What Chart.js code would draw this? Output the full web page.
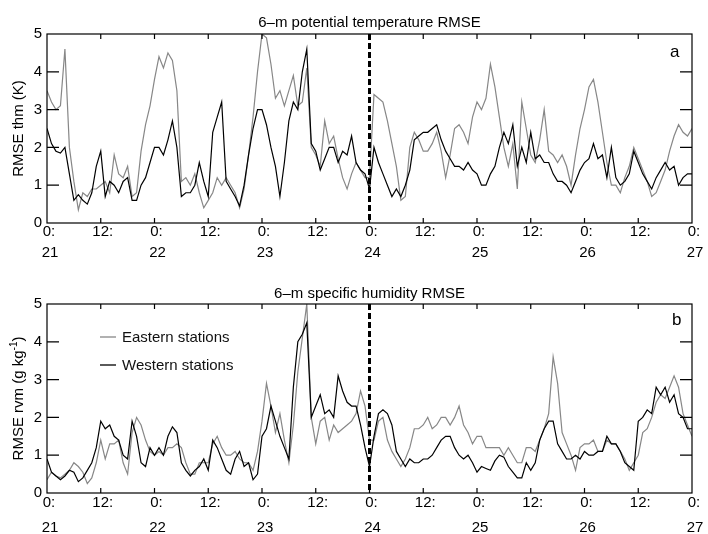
<!DOCTYPE html>
<html><head><meta charset="utf-8">
<script src="https://cdn.jsdelivr.net/npm/chart.js@4.4.1/dist/chart.umd.min.js"></script>
<style>
html,body{margin:0;padding:0;background:#fff;}
#wrap{position:relative;width:708px;height:534px;overflow:hidden;}
.pane{position:absolute;left:0;width:708px;height:267px;}
</style></head><body>
<div id="wrap">
<div class="pane" style="top:0"><canvas id="ca" width="708" height="267"></canvas></div>
<div class="pane" style="top:267px"><canvas id="cb" width="708" height="267"></canvas></div>
</div>
<script>
// ---- data (hourly, hour 0 = 0:00 on day 21) ----
const hours = Array.from({length: 145}, (_, i) => i);
const dayLabels = ['21','22','23','24','25','26','27'];
const hourLabels = ['0:','12:'];
const yTickValues = [0,1,2,3,4,5];
const dividerHour = 72;
const seriesNames = ['Eastern stations','Western stations'];

const eastA = [3.5,3.2,3.0,3.1,4.6,2.0,1.1,0.35,0.8,0.7,
0.9,0.9,1.0,1.1,0.8,1.8,1.3,1.2,1.5,0.7,
0.8,1.9,2.6,3.1,3.8,4.4,4.1,4.5,4.3,3.5,
1.1,1.2,1.0,1.3,0.8,0.4,0.6,0.8,1.2,1.0,
1.2,1.0,0.8,0.4,0.9,1.8,2.8,4.0,5.0,4.9,
4.2,3.3,3.5,3.1,3.5,3.9,3.1,3.2,4.1,2.0,
1.8,1.5,2.7,2.1,2.3,1.7,1.2,0.9,1.3,1.6,
1.4,1.2,1.2,3.4,3.3,3.2,2.7,2.1,1.5,0.6,
0.7,2.0,2.4,2.2,1.9,1.9,2.1,2.4,1.9,1.2,
1.8,2.5,2.6,2.4,2.1,2.8,3.2,3.0,3.3,4.2,
3.6,2.8,2.0,1.5,2.1,0.9,3.2,2.5,1.8,1.6,
2.2,3.0,1.9,1.8,1.6,1.8,1.5,1.0,1.8,2.5,
3.0,3.6,3.8,3.2,2.4,1.6,1.0,1.0,0.8,1.2,
1.5,2.0,1.7,1.4,1.1,0.7,0.8,1.1,1.4,1.9,
2.3,2.6,2.4,2.3,2.5];

const westA = [2.5,2.1,1.9,1.85,2.0,1.3,0.6,0.75,0.6,0.5,
0.8,1.5,1.9,0.7,1.1,1.0,0.8,1.1,1.2,0.6,
0.6,1.0,1.2,1.6,2.0,2.0,1.8,2.2,2.7,2.0,
0.7,0.8,0.8,1.0,1.6,1.1,0.7,2.4,2.8,3.2,
1.1,0.9,0.7,0.45,1.0,1.8,2.5,3.0,3.0,2.6,
2.0,1.5,0.7,1.6,2.7,3.2,3.0,4.0,4.6,2.1,
1.9,1.4,1.7,2.0,2.0,1.6,1.9,1.8,2.3,1.6,
1.4,1.3,0.9,2.0,1.6,1.3,1.0,0.7,0.9,0.7,
1.0,1.4,2.2,2.3,2.4,2.4,2.5,2.6,2.2,1.9,
1.7,1.5,1.5,1.4,1.6,1.4,1.3,1.0,1.0,1.3,
1.5,2.0,2.4,2.1,2.6,1.5,2.0,1.6,2.4,1.7,
1.8,1.6,1.6,1.3,1.1,1.1,1.0,0.8,1.1,1.4,
1.6,1.7,2.1,1.7,1.8,1.2,2.0,1.2,1.0,1.1,
1.3,1.9,1.6,1.3,1.1,0.9,1.2,1.4,1.6,1.4,
1.5,1.0,1.2,1.3,1.3];

const eastB = [0.35,0.55,0.45,0.4,0.5,0.6,0.8,0.7,0.55,0.25,
0.4,0.8,1.4,0.9,1.3,1.3,1.4,0.8,0.5,1.6,
2.0,1.8,1.4,1.1,1.0,1.1,1.0,1.2,1.2,1.3,
1.2,0.8,0.5,0.5,0.8,0.8,0.8,1.3,1.5,1.2,
1.0,1.0,1.1,0.9,0.8,0.8,0.6,1.1,1.9,2.9,
2.3,1.6,2.1,1.4,0.8,1.8,3.2,4.1,5.0,2.0,
1.3,1.9,2.0,1.4,1.8,1.6,1.7,1.8,1.9,2.1,
2.7,2.3,1.4,1.4,1.9,2.0,1.4,1.1,0.9,0.7,
0.9,1.2,1.7,1.7,1.8,2.0,1.7,1.8,2.0,2.0,
1.8,2.0,2.3,1.8,1.6,1.3,1.5,1.5,1.2,1.2,
1.2,1.2,1.0,1.2,1.0,0.8,0.8,1.2,1.2,1.1,
1.4,1.7,2.1,3.6,2.9,1.6,1.3,1.0,0.6,1.2,
1.3,1.3,1.4,1.1,1.1,1.4,1.3,1.3,1.1,0.9,
0.6,0.8,1.0,1.6,1.7,2.0,2.4,2.6,2.5,2.8,
3.1,2.8,2.1,1.8,1.5];

const westB = [0.9,0.55,0.45,0.35,0.45,0.6,0.55,0.3,0.4,0.6,
0.8,1.2,1.9,1.7,1.8,1.5,1.4,1.0,0.9,1.9,
1.5,0.8,0.7,1.2,1.0,1.2,1.0,1.5,1.75,1.6,
0.8,0.6,0.45,0.6,0.7,0.9,0.6,1.4,1.2,0.9,
0.6,0.5,0.9,1.1,0.7,0.8,0.35,0.5,1.5,1.7,
2.3,1.9,1.5,1.2,0.9,2.8,4.0,4.2,4.5,2.0,
2.3,2.6,2.1,2.2,2.0,3.1,2.7,2.4,2.3,2.3,
1.8,1.2,0.7,1.5,2.1,2.2,2.1,1.8,1.1,0.9,
0.7,0.9,0.8,0.8,0.9,0.9,1.0,1.2,1.4,1.5,
1.5,1.2,1.0,0.9,1.0,0.8,0.55,0.7,0.65,0.6,
0.85,1.0,0.95,0.7,0.55,0.4,0.4,0.8,0.6,0.8,
1.4,1.7,1.9,1.9,1.3,1.1,0.9,0.9,1.0,0.9,
1.1,1.0,1.0,1.1,1.1,1.5,1.3,1.3,1.1,0.8,
0.7,0.6,1.9,2.0,2.2,2.1,2.8,2.6,2.8,2.4,
2.6,2.1,2.0,1.7,1.7];

// ---- styling ----
const FONT = "'Liberation Sans', Arial, Helvetica, sans-serif";
const GRAY = '#878787';
const BLACK = '#000000';
Chart.defaults.font.family = FONT;
Chart.defaults.font.size = 15;
Chart.defaults.color = '#000';

function toPts(arr){ return hours.map((h,i)=>({x:h, y:arr[i]})); }

const deco = {
  id: 'deco',
  afterDatasetsDraw(chart, args, o) {
    const {ctx, chartArea: a, scales: {x, y}} = chart;
    ctx.save();
    // dashed divider
    const xd = x.getPixelForValue(dividerHour);
    ctx.strokeStyle = '#000'; ctx.lineWidth = 3; ctx.setLineDash([6,3]);
    ctx.beginPath(); ctx.moveTo(xd, a.top); ctx.lineTo(xd, a.bottom); ctx.stroke();
    ctx.setLineDash([]);
    // frame
    ctx.lineWidth = 1.2;
    ctx.strokeRect(a.left, a.top, a.right - a.left, a.bottom - a.top);
    // inside ticks
    ctx.beginPath();
    yTickValues.forEach(v => {
      if (v === 0 || v === 5) return;
      const py = y.getPixelForValue(v);
      ctx.moveTo(a.left, py); ctx.lineTo(a.left + 12, py);
      ctx.moveTo(a.right, py); ctx.lineTo(a.right - 12, py);
    });
    x.ticks.forEach(t => {
      if (t.value <= 0 || t.value >= 144) return;
      const px = x.getPixelForValue(t.value);
      ctx.moveTo(px, a.top); ctx.lineTo(px, a.top + 5);
      ctx.moveTo(px, a.bottom); ctx.lineTo(px, a.bottom - 5);
    });
    ctx.stroke();
    ctx.restore();
  },
  afterDraw(chart, args, o) {
    const {ctx, chartArea: a, scales: {x}} = chart;
    const cx = (a.left + a.right) / 2, cy = (a.top + a.bottom) / 2;
    ctx.save();
    ctx.fillStyle = '#000';
    ctx.textBaseline = 'alphabetic';
    // x tick labels (two lines: hour, day)
    ctx.font = '15px ' + FONT; ctx.textAlign = 'center';
    x.ticks.forEach(t => {
      const px = x.getPixelForValue(t.value) + 2;
      const isDay = t.value % 24 === 0;
      ctx.fillText(isDay ? hourLabels[0] : hourLabels[1], px, a.bottom + o.xl1);
      if (isDay) ctx.fillText(dayLabels[t.value / 24], px + 1, a.bottom + o.xl2);
    });
    // title
    ctx.fillText(o.title, cx, o.titleY);
    // panel letter
    ctx.font = '17px ' + FONT; ctx.textAlign = 'left';
    ctx.fillText(o.letter, o.letterX, o.letterY);
    // y-axis title (rotated, with optional superscript)
    ctx.translate(22.5, cy); ctx.rotate(-Math.PI/2);
    const big = '15px ' + FONT, small = '10px ' + FONT;
    let w = 0;
    o.yTitle.forEach(p => { ctx.font = p.sup ? small : big; w += ctx.measureText(p.t).width; });
    let xx = -w/2;
    ctx.textAlign = 'left';
    o.yTitle.forEach(p => {
      ctx.font = p.sup ? small : big;
      ctx.fillText(p.t, xx, p.sup ? -6 : 0);
      xx += ctx.measureText(p.t).width;
    });
    ctx.setTransform(1,0,0,1,0,0);
    // legend
    if (o.legend) {
      const ds = chart.data.datasets;
      o.legend.rows.forEach((r, i) => {
        const d = ds.find(s => s.label === r);
        ctx.strokeStyle = d.borderColor; ctx.lineWidth = 1.3;
        ctx.beginPath(); ctx.moveTo(o.legend.x, o.legend.ys[i]); ctx.lineTo(o.legend.x + 16, o.legend.ys[i]); ctx.stroke();
        ctx.font = '15px ' + FONT; ctx.textAlign = 'left'; ctx.textBaseline = 'middle';
        ctx.fillStyle = '#111';
        ctx.fillText(r, o.legend.x + 22, o.legend.ys[i] + 1);
      });
    }
    ctx.restore();
  }
};

function makeChart(id, east, west, cfg) {
  return new Chart(document.getElementById(id), {
    type: 'line',
    data: {
      datasets: [
        {label: seriesNames[1], data: toPts(west), borderColor: BLACK, borderWidth: 1.2, pointRadius: 0, tension: 0, fill: false},
        {label: seriesNames[0], data: toPts(east), borderColor: GRAY, borderWidth: 1.2, pointRadius: 0, tension: 0, fill: false}
      ]
    },
    options: {
      responsive: false, animation: false, devicePixelRatio: 1,
      layout: {padding: {top: cfg.padTop, right: 16, left: 0, bottom: 0}},
      plugins: {legend: {display: false}, tooltip: {enabled: false}, title: {display: false},
        deco: cfg.deco},
      scales: {
        x: {type: 'linear', min: 0, max: 144,
          afterFit: s => { s.height = cfg.xH; },
          grid: {display: false, drawTicks: false}, border: {display: false},
          ticks: {stepSize: 12, autoSkip: false, maxRotation: 0, display: false}},
        y: {min: 0, max: 5,
          afterFit: s => { s.width = 47; },
          grid: {display: false, drawTicks: false}, border: {display: false},
          ticks: {stepSize: 1, padding: 5, font: {size: 15}}}
      }
    },
    plugins: [deco]
  });
}

makeChart('ca', eastA, westA, {
  padTop: 34, xH: 44,
  deco: {title: '6\u2013m potential temperature RMSE', titleY: 26.5, letter: 'a', letterX: 670, letterY: 57,
    xl1: 12.5, xl2: 34,
    yTitle: [{t: 'RMSE thm (K)'}]}
});
makeChart('cb', eastB, westB, {
  padTop: 37, xH: 41,
  deco: {title: '6\u2013m specific humidity RMSE', titleY: 30.5, letter: 'b', letterX: 672, letterY: 58,
    xl1: 13.5, xl2: 38.5,
    yTitle: [{t: 'RMSE rvm (g kg'}, {t: '-1', sup: true}, {t: ')'}],
    legend: {x: 100, ys: [70, 98], rows: [seriesNames[0], seriesNames[1]]}}
});
</script>
</body></html>
